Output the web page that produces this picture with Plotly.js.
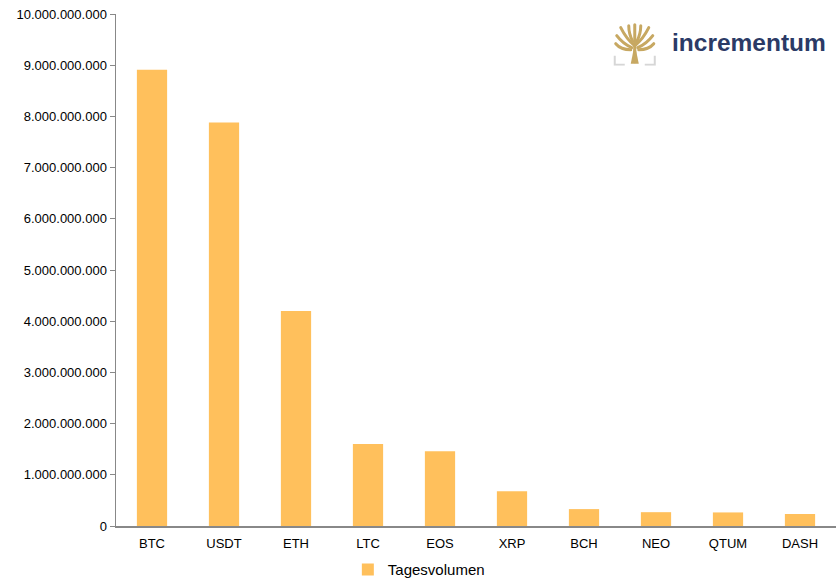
<!DOCTYPE html>
<html><head><meta charset="utf-8">
<script src="https://cdn.plot.ly/plotly-3.0.1.min.js"></script>
<style>html,body{margin:0;padding:0;background:#fff}#c{width:836px;height:579px}</style>
</head><body><div id="c"></div>
<script>
var coins = ["BTC","USDT","ETH","LTC","EOS","XRP","BCH","NEO","QTUM","DASH"];
var volume = [8910000000,7880000000,4200000000,1600000000,1460000000,680000000,330000000,270000000,265000000,235000000];
var seriesName = "Tagesvolumen";
var yTicks = [0,1e9,2e9,3e9,4e9,5e9,6e9,7e9,8e9,9e9,1e10];

var logoSvg = '<svg xmlns="http://www.w3.org/2000/svg" width="44" height="44" viewBox="0 0 44 44">' +
 '<g stroke="#c7a862" stroke-width="3" fill="none" stroke-linecap="round">' +
 '<path d="M22 40 L22 22"/><path d="M22 24 Q14 18 8 6"/><path d="M22 24 Q30 18 36 6"/>' +
 '<path d="M20 20 Q16 12 16 4"/><path d="M24 20 Q28 12 28 4"/><path d="M22 20 L22 3"/>' +
 '<path d="M19 26 Q10 22 4 14"/><path d="M25 26 Q34 22 40 14"/><path d="M18 28 Q8 28 3 22"/><path d="M26 28 Q36 28 41 22"/></g>' +
 '<path d="M18 42 L22 22 L26 42 Z" fill="#c7a862"/>' +
 '<g stroke="#d6d6d6" stroke-width="2" fill="none"><path d="M2 34 L2 43 L12 43"/><path d="M42 34 L42 43 L32 43"/></g></svg>';

Plotly.newPlot("c", [{
  type: "bar", x: coins, y: volume, name: seriesName,
  marker: {color: "#FFC05C"}, showlegend: true
}], {
  width: 836, height: 579,
  margin: {l: 116, r: 0, t: 14, b: 53},
  separators: ",.",
  paper_bgcolor: "#fff", plot_bgcolor: "#fff",
  font: {family: "Liberation Sans, Arial, sans-serif", size: 13, color: "#000"},
  bargap: 0.58,
  xaxis: {showline: true, linecolor: "#888", linewidth: 1.5, ticks: "", showgrid: false,
          tickfont: {size: 13}, ticklabelstandoff: 5, fixedrange: true, automargin: false},
  yaxis: {range: [0, 1e10], tickvals: yTicks, tickformat: ",d", showgrid: false, zeroline: false,
          showline: true, linecolor: "#888", linewidth: 1.5, ticks: "outside", ticklen: 5,
          tickcolor: "#888", tickfont: {size: 13}, automargin: false},
  legend: {orientation: "h", x: 0.322, xanchor: "left", xref: "paper", yref: "container",
           y: 0.016, yanchor: "middle", font: {size: 15}, itemwidth: 30},
  images: [{source: "data:image/svg+xml;utf8," + encodeURIComponent(logoSvg),
            xref: "paper", yref: "paper", x: 0.689, y: 0.985, sizex: 0.063, sizey: 0.086,
            xanchor: "left", yanchor: "top", sizing: "contain"}],
  annotations: [{text: "<b>incrementum</b>", xref: "paper", yref: "paper", x: 0.769, y: 0.945,
                 xanchor: "left", yanchor: "middle", showarrow: false,
                 font: {family: "Liberation Sans, Arial, sans-serif", size: 24.5, color: "#2b3a66"}}]
}, {displayModeBar: false, staticPlot: true});
</script></body></html>
